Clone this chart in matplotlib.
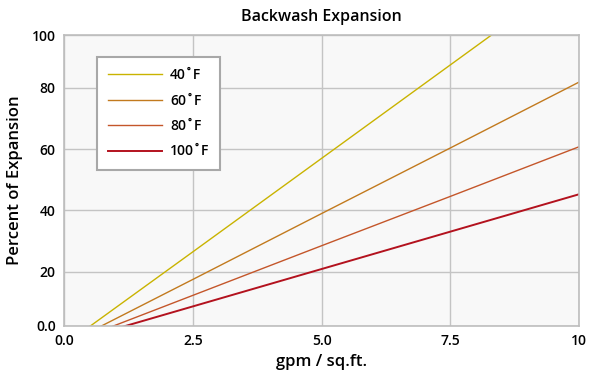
import matplotlib
matplotlib.use("Agg")
import matplotlib.pyplot as plt

plt.rcParams['font.family'] = ['Open Sans', 'DejaVu Sans']

# flow rate (gpm / sq.ft.)
flow = [0, 2.5, 5, 7.5, 10]

# percent of expansion, per water temperature
exp_40 = [-3.9, 26.5, 57.0, 87.5, 118.0]
exp_60 = [-3.9, 17.5, 39.0, 60.4, 81.9]
exp_80 = [-3.9, 12.3, 28.5, 44.6, 60.8]
exp_100 = [-3.5, 8.7, 20.9, 33.1, 45.3]

labels = ["40˚F", "60˚F", "80˚F", "100˚F"]
colors = ["#c9b300", "#c27a1e", "#c4562a", "#b3121e"]
widths = [1.0, 1.0, 1.0, 1.4]

x_ticks = [0, 2.5, 5, 7.5, 10]
x_tick_labels = ["0.0", "2.5", "5.0", "7.5", "10"]
y_ticks = [2.4, 20, 40, 60, 80, 97.2]
y_tick_labels = ["0.0", "20", "40", "60", "80", "100"]

fig = plt.figure(figsize=(6, 3.77), dpi=100)
ax = fig.add_axes([0.1067, 0.136, 0.8588, 0.771])
ax.set_facecolor("#f8f8f8")

for ys, lab, c, w in zip([exp_40, exp_60, exp_80, exp_100], labels, colors, widths):
    ax.plot(flow, ys, color=c, lw=w, label=lab)

ax.set_xlim(0, 10)
ax.set_ylim(2.4, 97.2)
ax.set_xticks(x_ticks)
ax.set_xticklabels(x_tick_labels)
ax.set_yticks(y_ticks)
ax.set_yticklabels(y_tick_labels)
ax.grid(True, color="#c4c4c4", lw=1)
ax.set_axisbelow(True)
ax.tick_params(length=0, labelsize=10, pad=6)
for t in ax.get_xticklabels() + ax.get_yticklabels():
    t.set_fontweight("semibold")
for s in ax.spines.values():
    s.set_color("#bdbdbd")
    s.set_linewidth(1.2)

ax.set_title("Backwash Expansion", fontsize=11.5, fontweight="semibold", pad=10)
ax.set_xlabel("gpm / sq.ft.", fontsize=12, fontweight="semibold", labelpad=4)
ax.set_ylabel("Percent of Expansion", fontsize=12, fontweight="semibold", labelpad=6)

leg = ax.legend(loc="upper left", bbox_to_anchor=(0.064, 0.924), borderaxespad=0,
                frameon=True, fancybox=False, handlelength=3.9, handletextpad=0.55,
                labelspacing=0.82, borderpad=0.8,
                prop={'weight': 'semibold', 'size': 10})
leg.get_frame().set_edgecolor("#a8a8a8")
leg.get_frame().set_linewidth(1.5)
leg.get_frame().set_facecolor("white")
leg.get_frame().set_alpha(1)

fig.savefig("out.png", dpi=100)
